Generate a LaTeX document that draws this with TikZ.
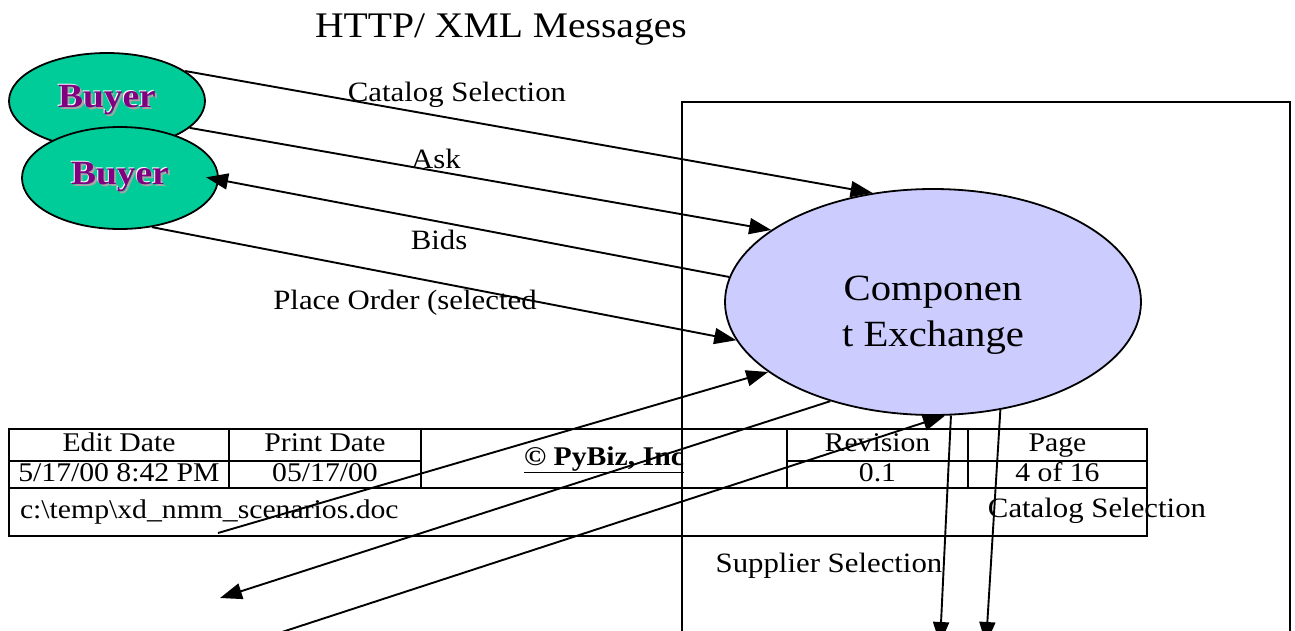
\documentclass[tikz,border=0pt]{standalone}
\usepackage{fontspec}
\setmainfont[FakeStretch=1.1]{Liberation Serif}
\usetikzlibrary{arrows.meta,shapes.geometric}
\definecolor{buyergreen}{RGB}{0,204,153}
\definecolor{buyerpurple}{RGB}{128,0,128}
\definecolor{exchblue}{RGB}{204,204,255}
\newcommand{\embossed}[1]{\rlap{\kern2pt\raisebox{-2pt}{\color{black!35}#1}}%
  \rlap{\kern-1pt\raisebox{1pt}{\color{white}#1}}{\color{buyerpurple}#1}}

\begin{document}
\begin{tikzpicture}[x=1pt,y=-1pt,
  buyer/.style={ellipse, draw, line width=1.8pt, fill=buyergreen, inner sep=0pt,
                minimum width=196pt, font=\fontsize{34}{36}\selectfont\bfseries},
  exch/.style={ellipse, draw, line width=1.8pt, fill=exchblue,
               minimum width=416pt, minimum height=226pt},
  lbl/.style={font=\fontsize{28}{32}\selectfont, inner sep=0pt},
  cell/.style={draw, line width=2.2pt, inner sep=0pt, outer sep=0pt,
               text height=19pt, text depth=6pt, font=\fontsize{27}{30}\selectfont},
  arr/.style={-{Triangle[length=22pt,width=16pt]}, line width=1.9pt}]
\useasboundingbox (0,0) rectangle (1295,630);
\clip (0,0) rectangle (1295,630);

\node[font=\fontsize{36}{40}\selectfont] (title) at (501,30) {HTTP/ XML Messages};

% exchange and its frame
\draw[line width=1.8pt] (682,102) rectangle (1290,660);
\node[exch] (exch) at (933,302) {};
\node[font=\fontsize{37}{46}\selectfont, align=center] (exchtxt) at ([yshift=-13pt]exch.center)
  {Componen\\t Exchange};

% buyers
\node[buyer, minimum height=96pt] (buyerA) at (107,101) {\embossed{Buyer}};
\node[buyer, minimum height=102pt] (buyerB) at (120,178) {\embossed{Buyer}};

% message labels
\node[lbl] (lblcat) at (457,95) {Catalog Selection};
\node[lbl] (lblask) at (436,159) {Ask};
\node[lbl] (lblbids) at (439,240) {Bids};
\node[lbl] (lblorder) at (405,303) {Place Order (selected};
\node[lbl] (lblcatb) at (1097,511) {Catalog Selection};
\node[lbl] (lblsup) at (829,566) {Supplier Selection};

% footer table
\node[cell, minimum width=220pt, minimum height=32pt] (edith) at (119,445) {Edit Date};
\node[cell, minimum width=192pt, minimum height=32pt] (printh) at (325,445) {Print Date};
\node[cell, minimum width=366pt, minimum height=59pt] (pybiz) at (604,458.5)
  {\underline{\textbf{© PyBiz, Inc}}};
\node[cell, minimum width=181pt, minimum height=32pt] (revh) at (877.5,445) {Revision};
\node[cell, minimum width=179pt, minimum height=32pt] (pageh) at (1057.5,445) {Page};
\node[cell, minimum width=220pt, minimum height=27pt] (editv) at (119,474.5) {5/17/00 8:42 PM};
\node[cell, minimum width=192pt, minimum height=27pt] (printv) at (325,474.5) {05/17/00};
\node[cell, minimum width=181pt, minimum height=27pt] (revv) at (877.5,474.5) {0.1};
\node[cell, minimum width=179pt, minimum height=27pt] (pagev) at (1057.5,474.5) {4 of 16};
\node[cell, minimum width=1138pt, minimum height=48pt, text width=1116pt, align=left]
  (file) at (578,512) {c:\textbackslash temp\textbackslash xd\_nmm\_scenarios.doc};

% free ends
\coordinate (inA) at (218,533);
\coordinate (outA) at (220,598);
\coordinate (inB) at (282,632);
\coordinate (outB) at (940,644);
\coordinate (outC) at (986,644);

\draw[arr] (buyerA.21) -- (exch.119.5);
\draw[arr] (buyerA.-18) -- (exch.156);
\draw[arr, shorten >=-13pt] (exch.173) -- (buyerB.-1);
\draw[arr] (buyerB.-57) -- (exch.191.4);
\draw[arr] (inA) -- (exch.203.6);
\draw[arr] (exch.224) -- (outA);
\draw[arr] (inB) -- (exch.276);
\draw[arr] (exch.279) -- (outB);
\draw[arr] (exch.302) -- (outC);
\end{tikzpicture}
\end{document}
